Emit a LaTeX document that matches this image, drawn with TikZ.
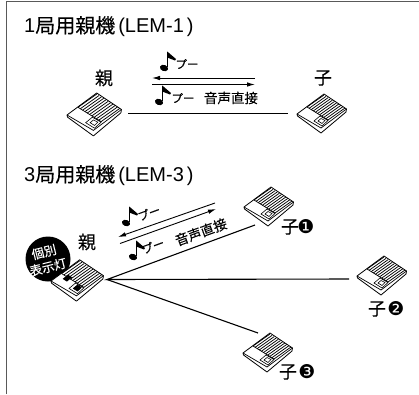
\documentclass[tikz,border=0pt]{standalone}
\usepackage{fontspec}
\setmainfont{Noto Sans CJK JP}[FakeBold=0.2]
\newfontfamily\dejavu{DejaVu Sans}
\newfontfamily\latinf{Liberation Sans}
\usetikzlibrary{arrows.meta,calc}
\tikzset{
  x=1pt,y=-1pt,
  wire/.style={line width=1.1pt,black},
  signal/.style={line width=0.9pt,black},
  signalhead/.style={-{Latex[length=8pt,width=4.5pt]}},
  title/.style={font=\fontsize{20}{20}\selectfont,inner sep=0pt,anchor=west},
  lab/.style={font=\fontsize{18}{18}\selectfont,inner sep=0pt},
  small/.style={font=\fontsize{13.5}{14}\selectfont,inner sep=0pt},
  buu/.style={font=\fontsize{11.5}{11.5}\selectfont,inner sep=0pt},
  circ/.style={font=\dejavu\fontsize{19}{19}\selectfont,inner sep=0pt},
  lamp/.style={font=\fontsize{12.5}{12.5}\selectfont,inner sep=0pt,text=white,rotate=14},
  unit/.pic={
    \draw[line width=0.8pt,fill=white,line join=round] (0,0)--(0.5,2)--(24,19)--(49,-2)--(49.5,-5)--(27,-20)--cycle;
    \draw[line width=0.7pt] (0,0)--(24,14)--(49.5,-5);
    \foreach \t in {0,0.1,...,1.01}{
      \draw[line width=0.75pt] ($(10,-7)!\t!(31,6)$)--($(27,-19)!\t!(48,-6)$);
    }
    \draw[line width=0.6pt] (17,7)--(23,2)--(31,6.5)--(25,12)--cycle;
    \draw[line width=0.6pt] (21,7)--(24,4.5)--(28,6.5)--(25,9.5)--cycle;
    \draw[line width=0.7pt] (10,-7)--(31,6);
  },
  hubmarks/.pic={
    \fill[black] (11,-2)--(16,-6)--(20,-3.5)--(15,0.5)--cycle;
    \fill[black] (21,7)--(25,3.5)--(29,6)--(25,9.5)--cycle;
  },
  note/.pic={
    \fill[black,rotate around={-20:(0,0)}] (0,0) ellipse (4.2 and 3.1);
    \draw[line width=1.1pt] (3.6,-1)--(3.6,-16);
    \fill[black] (3.2,-16.5)--(12,-9)--(11,-7.5)--(3.2,-10.5)--cycle;
  }
}
\begin{document}
\begin{tikzpicture}
\useasboundingbox (0,0) rectangle (419,394);
\draw[line width=1pt,black!65] (6,394)--(6,1.5)--(419,1.5);

% section 1
\node[title] (t1) at (24,26.5) {{\latinf 1}局用親機\hspace{3pt}{\latinf (LEM-1\hspace{3pt})}};
\node[lab] (p1) at (104,78) {親};
\node[lab] (c1) at (323,78) {子};
\pic[scale=1.1] at (67,115) {unit};
\pic at (297,114) {unit};
\coordinate (a1) at (128,113.5);
\coordinate (b1) at (288,113.5);
\draw[wire] (a1)--(b1);
\coordinate (s1a) at (255,78);
\coordinate (s1b) at (152,78);
\coordinate (s2a) at (152,84.5);
\coordinate (s2b) at (255,84.5);
\draw[signal,signalhead] (s1a)--(s1b);
\draw[signal,signalhead] (s2a)--(s2b);
\pic at (164,68) {note};
\node[buu] (b1t) at (187,64) {プー};
\pic at (159,102) {note};
\node[buu] (b2t) at (183,98) {プー};
\node[small] (v1) at (231,98) {音声直接};

% section 2
\node[title] (t2) at (24,175.5) {{\latinf 3}局用親機\hspace{3pt}{\latinf (LEM-3\hspace{3pt})}};
\node[lab] (p2) at (87,242) {親};
\fill[black] (48,259) circle (22.5);
\node[lamp] (l1) at (44,252) {個別};
\node[lamp] (l2) at (48,267) {表示灯};
\pic[scale=1.06] at (51,281) {unit};
\pic[scale=1.06] at (51,281) {hubmarks};
\pic at (244,207) {unit};
\pic at (357,276) {unit};
\pic at (243,353) {unit};
\node[lab] (c2) at (290,227) {子};
\node[circ] (n2) at (306,227) {❶};
\node[lab] (c3) at (377,309) {子};
\node[circ] (n3) at (396,309) {❷};
\node[lab] (c4) at (288,372) {子};
\node[circ] (n4) at (307,372) {❸};
\coordinate (hub) at (107,279.5);
\coordinate (e1) at (255,225);
\coordinate (e2) at (349,279);
\coordinate (e3) at (258,333);
\draw[wire] (e1)--(hub)--(e2);
\draw[wire] (hub)--(e3);
\coordinate (s3a) at (215,203);
\coordinate (s3b) at (118,237);
\coordinate (s4a) at (120,243.5);
\coordinate (s4b) at (216,209);
\draw[signal,signalhead] (s3a)--(s3b);
\draw[signal,signalhead] (s4a)--(s4b);
\pic at (126,223) {note};
\node[buu,rotate=20] (b3t) at (149,213) {プー};
\pic at (133,257) {note};
\node[buu,rotate=20] (b4t) at (153,246) {プー};
\node[small,rotate=20] (v2) at (201,232) {音声直接};
\end{tikzpicture}
\end{document}
